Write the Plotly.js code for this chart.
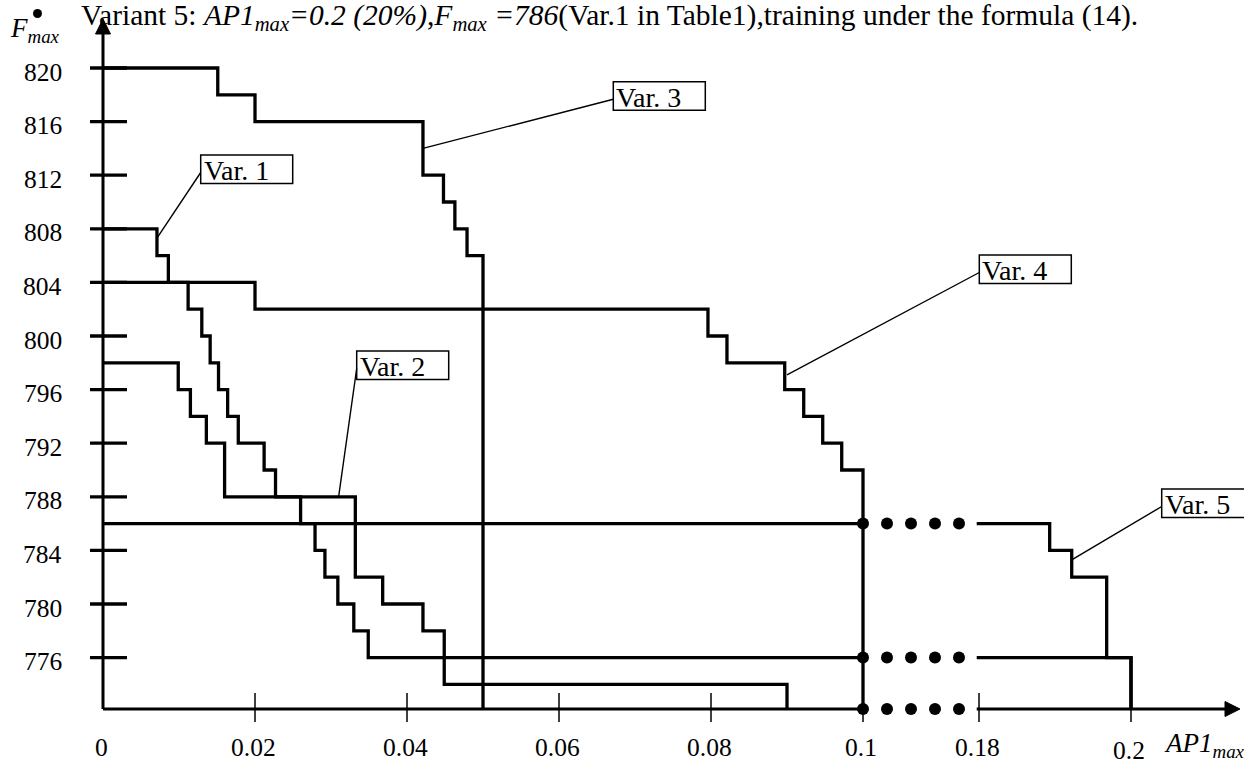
<!DOCTYPE html>
<html><head><meta charset="utf-8">
<script src="https://cdn.plot.ly/plotly-3.0.1.min.js"></script>
<style>html,body{margin:0;padding:0;background:#fff;overflow:hidden}#chart{width:1244px;height:764px}</style>
</head><body><div id="chart"></div>
<script>
// ---------- data ----------
const xTickValues = [0, 0.02, 0.04, 0.06, 0.08, 0.1, 0.18, 0.2];
const xTickLabels = ['0', '0.02', '0.04', '0.06', '0.08', '0.1', '0.18', '0.2'];
const yTickValues = [776, 780, 784, 788, 792, 796, 800, 804, 808, 812, 816, 820];
const yTickLabels = ['776', '780', '784', '788', '792', '796', '800', '804', '808', '812', '816', '820'];

// step curves: x = where each level starts/ends, y = level after that x ("AXIS" = drop to the axis)
const var1X = [0, 0.0071, 0.0086, 0.0112, 0.013, 0.0141, 0.0152, 0.0164, 0.0178, 0.0212, 0.0227, 0.026, 0.0279, 0.0292, 0.0309, 0.033, 0.0349, 0.1, null, 0.1797, 0.2];
const var1Y = [808, 806, 804, 802, 800, 798, 796, 794, 792, 790, 788, 786, 784, 782, 780, 778, 776, 776, null, 776, 'AXIS'];
const var2X = [0, 0.0099, 0.0115, 0.0136, 0.016, 0.0332, 0.0368, 0.0421, 0.0449, 0.09];
const var2Y = [798, 796, 794, 792, 788, 782, 780, 778, 774, 'AXIS'];
const var3X = [0, 0.0151, 0.02, 0.0421, 0.0448, 0.0463, 0.0479, 0.05];
const var3Y = [820, 818, 816, 812, 810, 808, 806, 'AXIS'];
const var4X = [0, 0.02, 0.0796, 0.0821, 0.0897, 0.0922, 0.0947, 0.0972, 0.1];
const var4Y = [804, 802, 800, 798, 796, 794, 792, 790, 'AXIS'];
const var5X = [0, 0.1, null, 0.1797, 0.1893, 0.1922, 0.1968, 0.2];
const var5Y = [786, 786, null, 786, 784, 782, 776, 'AXIS'];

const labelNames = ['Var. 1', 'Var. 2', 'Var. 3', 'Var. 4', 'Var. 5'];
const labelPointX = [0.0071, 0.031, 0.0421, 0.09, 0.1922];
const labelPointY = [807.3, 788, 814, 797.1, 783.3];

// ---------- geometry of the drawing ----------
const PX_PER_X = 7600, X0_PX = 103;
const Y_REF_VAL = 820, Y_REF_PX = 68, PX_PER_Y = 13.4;
const BREAK_LO = 0.1, BREAK_HI = 0.18, BREAK_GAP_PX = 116;
const pxToU = p => (p - X0_PX) / PX_PER_X;
const pyToV = p => Y_REF_VAL - (p - Y_REF_PX) / PX_PER_Y;
const AXIS = pyToV(709);
const u = x => x === null ? null : (x <= BREAK_LO ? x : BREAK_LO + BREAK_GAP_PX / PX_PER_X + (x - BREAK_HI));
const lv = y => y === null ? null : (y === 'AXIS' ? AXIS : y);

const FONT = '"Liberation Serif", "Times New Roman", serif';
const K = '#000';

const series = [[var1X, var1Y], [var2X, var2Y], [var3X, var3Y], [var4X, var4Y], [var5X, var5Y]];
const traces = series.map(([xs, ys]) => ({
  x: xs.map(u), y: ys.map(lv), type: 'scatter', mode: 'lines',
  line: {shape: 'hv', width: 3.3, color: K}, connectgaps: false, hoverinfo: 'skip'
}));

// break dots at the three levels crossing the break
const breakLevels = [var5Y[1], var1Y[17], AXIS];
const dotX = [], dotY = [];
breakLevels.forEach(l => { for (let i = 0; i < 5; i++) { dotX.push(u(BREAK_LO) + i * 24 / PX_PER_X); dotY.push(l); } });
traces.push({x: dotX, y: dotY, type: 'scatter', mode: 'markers', marker: {size: 12, color: K}, hoverinfo: 'skip'});

const shapes = [];
const line = (x0, y0, x1, y1, w) => shapes.push({type: 'line', xref: 'x', yref: 'y', x0, y0, x1, y1, line: {color: K, width: w}});
// axes
line(0, AXIS, u(BREAK_LO), AXIS, 3);
line(u(0.1797), AXIS, pxToU(1228), AXIS, 3);
line(0, AXIS, 0, pyToV(30), 3);
// arrowheads
shapes.push({type: 'path', xref: 'x', yref: 'y', fillcolor: K, line: {color: K, width: 1},
  path: `M ${pxToU(1240)} ${AXIS} L ${pxToU(1225)} ${pyToV(701.5)} L ${pxToU(1225)} ${pyToV(716.5)} Z`});
shapes.push({type: 'path', xref: 'x', yref: 'y', fillcolor: K, line: {color: K, width: 1},
  path: `M 0 ${pyToV(19)} L ${pxToU(95.5)} ${pyToV(34)} L ${pxToU(110.5)} ${pyToV(34)} Z`});
// ticks
yTickValues.forEach(v => line(pxToU(90), v, pxToU(127), v, 3.3));
xTickValues.slice(1).forEach(v => line(u(v), pyToV(693), u(v), pyToV(722), 1.5));
// bullet of F_max
shapes.push({type: 'circle', xref: 'x', yref: 'y', x0: pxToU(33), x1: pxToU(42), y0: pyToV(18), y1: pyToV(9), fillcolor: K, line: {width: 0}});

// label boxes with leaders
const boxPos = [[200.7, 155], [356.7, 351], [613.3, 81.7], [979.3, 255], [1161.7, 489]];
const BOX_W = 92, BOX_H = 28.5;
const annotations = [];
labelNames.forEach((name, i) => {
  const [bl, bt] = boxPos[i];
  shapes.push({type: 'rect', xref: 'x', yref: 'y', x0: pxToU(bl), x1: pxToU(bl + BOX_W), y0: pyToV(bt + BOX_H), y1: pyToV(bt), line: {color: K, width: 1.5}, fillcolor: 'rgba(0,0,0,0)'});
  line(u(labelPointX[i]), labelPointY[i], pxToU(bl), pyToV(bt + 17.5), 1.4);
  annotations.push({x: pxToU(bl + 1), y: pyToV(bt + 15.5), xref: 'x', yref: 'y', xanchor: 'left', yanchor: 'middle',
    text: name, showarrow: false, font: {family: FONT, size: 28, color: K}});
});

// tick labels
yTickValues.forEach((v, i) => annotations.push({x: pxToU(64), y: v, xref: 'x', yref: 'y', xanchor: 'right', yanchor: 'middle', yshift: -4,
  text: yTickLabels[i], showarrow: false, font: {family: FONT, size: 25.5, color: K}}));
xTickValues.forEach((v, i) => annotations.push({x: u(v), y: pyToV(i === xTickValues.length - 1 ? 750 : 747), xref: 'x', yref: 'y', xanchor: 'center', yanchor: 'middle', xshift: -2,
  text: xTickLabels[i], showarrow: false, font: {family: FONT, size: 25.5, color: K}}));

// axis titles and title
annotations.push({x: pxToU(1162), y: pyToV(745), xref: 'x', yref: 'y', xanchor: 'left', yanchor: 'middle',
  text: '<i>AP1<sub>max</sub></i>', showarrow: false, font: {family: FONT, size: 27, color: K}});
annotations.push({x: pxToU(8), y: pyToV(30), xref: 'x', yref: 'y', xanchor: 'left', yanchor: 'middle',
  text: '<i>F<sub>max</sub></i>', showarrow: false, font: {family: FONT, size: 27, color: K}});
annotations.push({x: pxToU(79), y: pyToV(17), xref: 'x', yref: 'y', xanchor: 'left', yanchor: 'middle',
  text: 'Variant 5: <i>AP1<sub>max</sub>=0.2 (20%)</i>,<i>F<sub>max</sub> =786</i>(Var.1 in Table1),training under the formula (14).',
  showarrow: false, font: {family: FONT, size: 29.5, color: K}});

const layout = {
  width: 1244, height: 764, margin: {l: 0, r: 0, t: 0, b: 0, pad: 0},
  paper_bgcolor: '#fff', plot_bgcolor: '#fff', showlegend: false,
  xaxis: {range: [pxToU(0), pxToU(1244)], visible: false, fixedrange: true},
  yaxis: {range: [pyToV(764), pyToV(0)], visible: false, fixedrange: true},
  shapes, annotations
};
Plotly.newPlot('chart', traces, layout, {displayModeBar: false, staticPlot: true});
</script></body></html>
